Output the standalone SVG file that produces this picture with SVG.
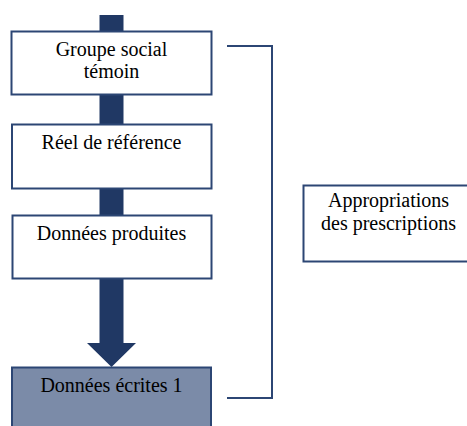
<svg xmlns="http://www.w3.org/2000/svg" width="467" height="426" viewBox="0 0 467 426">
<style>
.box{fill:#ffffff;stroke:#2c4674;stroke-width:2}
.dark{fill:#7b8ba8;stroke:#2c4674;stroke-width:2}
.t{font-family:"Liberation Serif","Times New Roman",serif;font-size:20px;fill:#000;text-anchor:middle}
.bar{fill:#203864}
.br{fill:none;stroke:#2c4674;stroke-width:2}
</style>
<g id="connectors">
<rect class="bar" x="99.5" y="15" width="24" height="18"/>
<rect class="bar" x="99.5" y="94" width="24" height="31"/>
<rect class="bar" x="99.5" y="188" width="24" height="28"/>
<path class="bar" d="M99.5 278 H123.5 V343 H136 L111.5 367 L87 343 H99.5 Z"/>
<path class="br" d="M227 46 H272 V398 H227"/>
</g>
<g id="n1">
<rect class="box" x="11.5" y="31.5" width="200" height="63"/>
<text class="t" x="111.5" y="56">Groupe social</text>
<text class="t" x="111.5" y="78">témoin</text>
</g>
<g id="n2">
<rect class="box" x="12" y="124.5" width="199.5" height="64"/>
<text class="t" x="111.5" y="149">Réel de référence</text>
</g>
<g id="n3">
<rect class="box" x="12.5" y="215.5" width="199" height="63"/>
<text class="t" x="111.5" y="240">Données produites</text>
</g>
<g id="n4">
<rect class="dark" x="12" y="367.5" width="199" height="70"/>
<text class="t" x="111.5" y="392">Données écrites 1</text>
</g>
<g id="n5">
<rect class="box" x="303.5" y="185.5" width="172" height="76"/>
<text class="t" x="388.5" y="207">Appropriations</text>
<text class="t" x="388.5" y="230">des prescriptions</text>
</g>
</svg>
